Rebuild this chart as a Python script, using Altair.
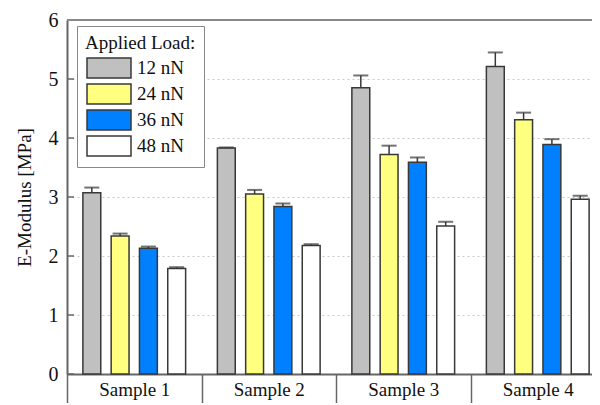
import altair as alt
import pandas as pd

samples = ["Sample 1", "Sample 2", "Sample 3", "Sample 4"]
loads = ["12 nN", "24 nN", "36 nN", "48 nN"]
colors = ["#c0c0c0", "#ffff80", "#0080ff", "#ffffff"]
values = [
    [3.07, 2.34, 2.13, 1.79],
    [3.83, 3.05, 2.84, 2.18],
    [4.85, 3.72, 3.59, 2.51],
    [5.21, 4.31, 3.89, 2.96],
]
errors = [
    [0.09, 0.04, 0.03, 0.02],
    [0.01, 0.07, 0.05, 0.02],
    [0.21, 0.15, 0.08, 0.07],
    [0.24, 0.12, 0.09, 0.06],
]
yticks = [0, 1, 2, 3, 4, 5, 6]

rows = []
for i, s in enumerate(samples):
    for j, l in enumerate(loads):
        rows.append({"sample": s, "load": l, "value": values[i][j],
                     "top": values[i][j] + errors[i][j]})
df = pd.DataFrame(rows)
tick_df = pd.DataFrame({"t": yticks})

W, H = 525, 354
XR = 538
FONT = "Liberation Serif"
AX = "#666666"

yscale = alt.Scale(domain=[0, 6], nice=False)
xscale = alt.Scale(paddingInner=0, paddingOuter=0, range=[0, XR])
xenc = alt.X("sample:N", sort=samples, scale=xscale,
             axis=alt.Axis(title=None, labelFont=FONT, labelFontSize=19,
                           labelColor="#111", labelAngle=0,
                           tickBand="extent", tickSize=34, tickColor=AX,
                           tickWidth=1.5, labelPadding=-28,
                           domainColor=AX, domainWidth=2, grid=False))
xoff = alt.XOffset("load:N", sort=loads,
                   scale=alt.Scale(paddingInner=0.368, paddingOuter=0.561))

base = alt.Chart(df)

bars = base.mark_bar(stroke="#383838", strokeWidth=1.5).encode(
    x=xenc, xOffset=xoff,
    y=alt.Y("value:Q", scale=yscale,
            axis=alt.Axis(title="E-Modulus [MPa]", values=yticks, format="d",
                          titleFont=FONT, titleFontSize=19,
                          titleFontWeight="normal", titleColor="#111",
                          titlePadding=14,
                          labelFont=FONT, labelFontSize=20, labelColor="#111",
                          labelPadding=9, ticks=False,
                          domainColor=AX, domainWidth=2,
                          grid=True, gridColor="#c8c8c8", gridDash=[2, 3],
                          gridWidth=1)),
    fill=alt.Fill("load:N", sort=loads,
                  scale=alt.Scale(domain=loads, range=colors),
                  legend=alt.Legend(
                      title="Applied Load:", orient="none",
                      legendX=10, legendY=6,
                      titleFont=FONT, titleFontSize=19,
                      titleFontWeight="normal", titleColor="#111",
                      titlePadding=4,
                      labelFont=FONT, labelFontSize=19, labelColor="#111",
                      labelOffset=17, symbolOffset=13,
                      symbolType="M-2.2,-1H2.2V1H-2.2Z", symbolSize=400,
                      symbolStrokeColor="#383838", symbolStrokeWidth=1.5,
                      rowPadding=0, padding=8,
                      strokeColor="#888888", fillColor="white",
                      cornerRadius=0)),
)

err_line = base.mark_rule(color="#383838", strokeWidth=1.5).encode(
    x=alt.X("sample:N", sort=samples, scale=xscale), xOffset=xoff,
    y=alt.Y("value:Q", scale=yscale), y2="top:Q")

err_cap = base.mark_tick(color="#383838", thickness=2, size=15).encode(
    x=alt.X("sample:N", sort=samples, scale=xscale), xOffset=xoff,
    y=alt.Y("top:Q", scale=yscale))

inner_ticks = alt.Chart(tick_df).mark_rule(color=AX, strokeWidth=1.5).encode(
    y=alt.Y("t:Q", scale=yscale), x=alt.value(0), x2=alt.value(7))

top_line = alt.Chart(tick_df).mark_rule(color="#888888", strokeWidth=2).encode(
    y=alt.datum(6, scale=yscale), x=alt.value(0), x2=alt.value(W))

chart = alt.layer(bars, err_line, err_cap, inner_ticks, top_line).properties(
    width=W, height=H,
    autosize=alt.AutoSizeParams(type="none"),
    padding={"left": 59, "top": 12, "right": 0, "bottom": 29},
).configure_view(stroke=None)

chart.save("out.html", embed_options={"renderer": "svg", "actions": False})
